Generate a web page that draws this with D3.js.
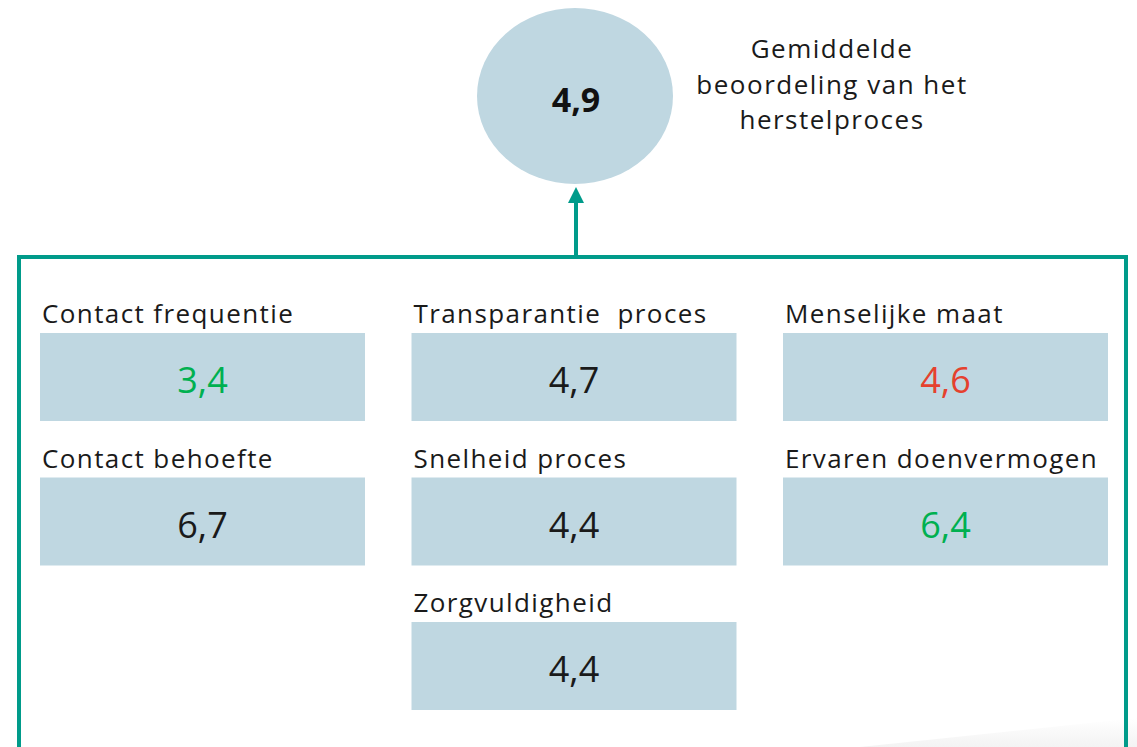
<!DOCTYPE html>
<html>
<head>
<meta charset="utf-8">
<script src="https://cdn.jsdelivr.net/npm/d3@7"></script>
<style>
  html, body { margin: 0; padding: 0; background: #ffffff; }
  svg { display: block; }
  text { font-family: "Open Sans", "Noto Sans", sans-serif; }
</style>
</head>
<body>
<svg id="chart" width="1137" height="747"></svg>
<script>
// ---- data ----
const categories = ["Contact frequentie", "Contact behoefte", "Transparantie  proces", "Snelheid proces", "Zorgvuldigheid", "Menselijke maat", "Ervaren doenvermogen"];
const values = [3.4, 6.7, 4.7, 4.4, 4.4, 4.6, 6.4];
const columnIndex = [0, 0, 1, 1, 1, 2, 2];
const rowIndex = [0, 1, 0, 1, 2, 0, 1];
const trend = ["positive", "neutral", "neutral", "neutral", "neutral", "negative", "positive"];
const overallValue = [4.9];
const overallLabel = ["Gemiddelde", "beoordeling van het", "herstelproces"];

// ---- setup ----
const W = 1137, H = 747;
const svg = d3.select("#chart");
const nl = d3.formatLocale({ decimal: ",", thousands: ".", grouping: [3], currency: ["€", ""] });
const fmt = nl.format(".1f");

const teal = "#009b8a";
const boxFill = "#bfd7e1";
const trendColor = d3.scaleOrdinal()
  .domain(["positive", "neutral", "negative"])
  .range(["#00b050", "#1a1a1a", "#e5412e"]);

const boxW = 325, boxH = 88;
const x = d3.scaleLinear().domain([0, 2]).range([40, 783]);
const y = d3.scaleLinear().domain([0, 2]).range([333, 622]);

// subtle page shadow bottom-right
const defs = svg.append("defs");
const grad = defs.append("linearGradient").attr("id", "shade")
  .attr("x1", "0").attr("y1", "0").attr("x2", "0").attr("y2", "1");
grad.append("stop").attr("offset", "0").attr("stop-color", "#ffffff");
grad.append("stop").attr("offset", "1").attr("stop-color", "#eeeeee");
svg.append("path")
  .attr("d", `M 860 ${H} L ${W} 718 L ${W} ${H} Z`)
  .attr("fill", "url(#shade)")
  .attr("opacity", 0.7);

// frame
svg.append("rect")
  .attr("x", 19).attr("y", 257)
  .attr("width", 1107).attr("height", 560)
  .attr("fill", "none")
  .attr("stroke", teal)
  .attr("stroke-width", 4);

// arrow
svg.append("line")
  .attr("x1", 576).attr("x2", 576)
  .attr("y1", 257).attr("y2", 200)
  .attr("stroke", teal).attr("stroke-width", 4);
svg.append("path")
  .attr("d", "M 576 187 L 584 203 L 568 203 Z")
  .attr("fill", teal);

// overall ellipse
const ov = svg.append("g").selectAll("g").data(overallValue).join("g");
ov.append("ellipse")
  .attr("cx", 575).attr("cy", 96)
  .attr("rx", 98).attr("ry", 88)
  .attr("fill", boxFill);
ov.append("text")
  .attr("x", 576).attr("y", 112)
  .attr("text-anchor", "middle")
  .attr("font-size", 34)
  .attr("font-weight", 700)
  .attr("fill", "#111")
  .text(d => fmt(d));

svg.append("g").selectAll("text").data(overallLabel).join("text")
  .attr("x", 832)
  .attr("y", (d, i) => 58 + i * 35.5)
  .attr("text-anchor", "middle")
  .attr("font-size", 26)
  .attr("letter-spacing", 1.5)
  .attr("fill", "#1a1a1a")
  .text(d => d);

// items
const items = categories.map((c, i) => ({
  label: c, value: values[i], col: columnIndex[i], row: rowIndex[i], trend: trend[i]
}));

const g = svg.append("g").selectAll("g").data(items).join("g")
  .attr("transform", d => `translate(${x(d.col)},${y(d.row)})`);

g.append("rect")
  .attr("width", boxW).attr("height", boxH)
  .attr("fill", boxFill);

g.append("text")
  .attr("x", 2).attr("y", -10)
  .attr("font-size", 26)
  .attr("letter-spacing", 1.4)
  .attr("fill", "#1a1a1a")
  .style("white-space", "pre")
  .text(d => d.label);

g.append("text")
  .attr("x", boxW / 2).attr("y", 60)
  .attr("text-anchor", "middle")
  .attr("font-size", 36)
  .attr("fill", d => trendColor(d.trend))
  .text(d => fmt(d.value));
</script>
</body>
</html>
